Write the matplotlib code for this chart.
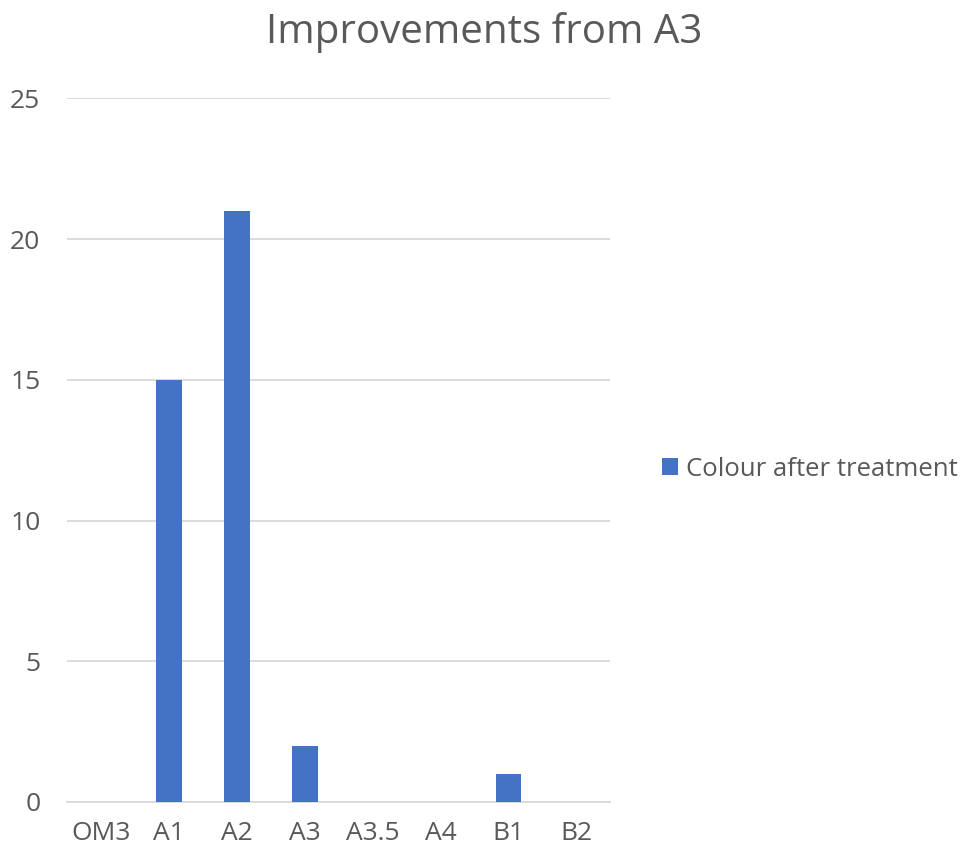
import matplotlib.pyplot as plt

plt.rcParams['font.family'] = ['Open Sans', 'DejaVu Sans']

categories = ["OM3", "A1", "A2", "A3", "A3.5", "A4", "B1", "B2"]
values = [0, 15, 21, 2, 0, 0, 1, 0]
series_name = "Colour after treatment"

txt = "#595959"
fig = plt.figure(figsize=(9.69, 8.55), dpi=100)
ax = fig.add_axes([0.069, 0.062, 0.561, 0.823])

x = range(len(categories))
ax.bar(x, values, width=0.38, color="#4472C4", label=series_name, zorder=3)

ax.set_xlim(-0.5, len(categories) - 0.5)
ax.set_ylim(0, 25)
ax.set_yticks([0, 5, 10, 15, 20, 25])
ax.set_xticks(list(x))
ax.set_xticklabels(categories)
ax.yaxis.grid(True, color="#D9D9D9", linewidth=1.3, zorder=0)
for s in ["top", "right", "left"]:
    ax.spines[s].set_visible(False)
ax.spines["bottom"].set_color("#D9D9D9")
ax.spines["bottom"].set_linewidth(1.3)
ax.tick_params(axis="both", length=0, labelsize=19, labelcolor=txt)
ax.tick_params(axis="y", pad=19)
ax.tick_params(axis="x", pad=14)

fig.text(0.5, 0.962, "Improvements from A3", ha="center", va="center",
         fontsize=29, color=txt)

fig.legend(loc="center left", bbox_to_anchor=(0.659, 0.451), frameon=False,
           fontsize=18.5, labelcolor=txt, handlelength=0.65, handleheight=0.65,
           handletextpad=0.3)

fig.savefig("out.png", dpi=100)
